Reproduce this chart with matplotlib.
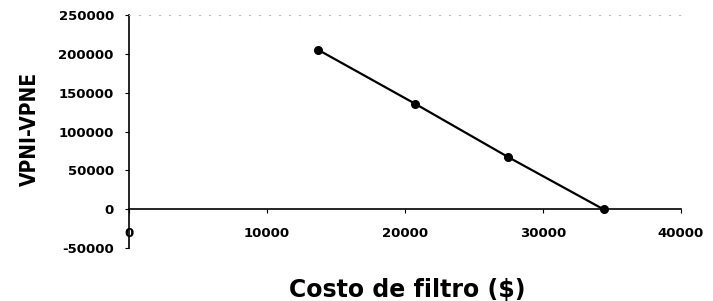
import numpy as np
import matplotlib.pyplot as plt

plt.rcParams['axes.unicode_minus'] = False

# costo de filtro vs diferencia de valor presente
costo = [13700, 20700, 27500, 34400]
vpn_dif = [205000, 136000, 67000, 0]

x_ticks = [0, 10000, 20000, 30000, 40000]
y_ticks = [-50000, 0, 50000, 100000, 150000, 200000, 250000]

fig = plt.figure(figsize=(7.13, 3.01), dpi=100)
ax = fig.add_axes([0.181, 0.175, 0.774, 0.776])

ax.plot(costo, vpn_dif, color='black', linewidth=1.6, marker='o', markersize=5.5)

ax.set_xlim(0, 40000)
ax.set_ylim(-50000, 250000)
ax.set_xticks(x_ticks)
ax.set_yticks(y_ticks)

# x axis crosses at y = 0
ax.spines['bottom'].set_position(('data', 0))
ax.spines['right'].set_visible(False)
ax.spines['top'].set_color('#bbbbbb')
ax.spines['top'].set_linestyle((0, (1, 8)))
ax.spines['left'].set_linewidth(1.2)
ax.spines['bottom'].set_linewidth(1.2)

ax.tick_params(axis='x', direction='out', length=3, pad=10, labelsize=9.5)
ax.tick_params(axis='y', direction='out', length=3, pad=8, labelsize=9.5)
for lbl in ax.get_xticklabels() + ax.get_yticklabels():
    lbl.set_fontweight('bold')

fig.text(0.571, 0.035, 'Costo de filtro ($)', ha='center', va='center',
         fontsize=17, fontweight='bold')
fig.text(0.042, 0.57, 'VPNI-VPNE', ha='center', va='center', rotation=90,
         fontsize=15, fontweight='heavy', fontstretch='condensed')

fig.savefig('out.png', dpi=100)
